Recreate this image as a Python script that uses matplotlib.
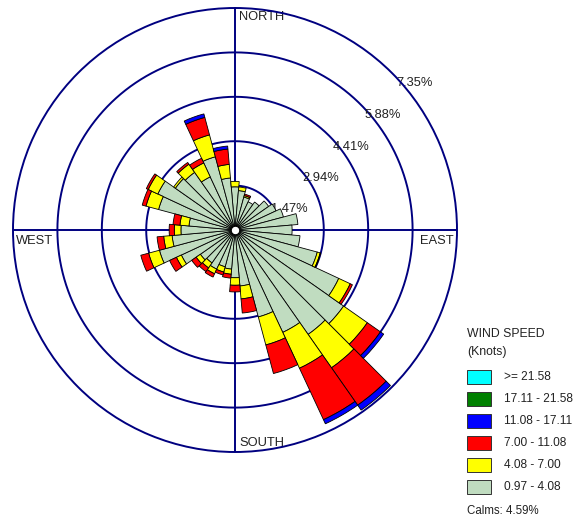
import numpy as np
import matplotlib
matplotlib.use("Agg")
import matplotlib.pyplot as plt
from matplotlib.patches import Rectangle

plt.rcParams['font.family'] = ['Liberation Sans', 'DejaVu Sans']

# ---------------- data ----------------
directions = [0, 10, 20, 30, 40, 50, 60, 70, 80, 90, 100, 110,
              120, 130, 140, 150, 160, 170, 180, 190, 200, 210, 220, 230,
              240, 250, 260, 270, 280, 290, 300, 310, 320, 330, 340, 350]

# frequency (%) per direction for each wind-speed class
freq_097_408 = [1.43, 1.31, 1.13, 1.03, 1.13, 1.36, 1.50, 1.66, 2.09, 1.89, 2.16, 2.82,
                3.79, 4.39, 4.22, 3.74, 2.98, 1.86, 1.58, 1.30, 1.26, 1.43, 1.33, 1.40,
                1.96, 2.59, 2.09, 1.79, 1.53, 2.62, 2.82, 2.41, 2.33, 1.94, 2.51, 1.73]
freq_408_700 = [0.18, 0.12, 0.05, 0.00, 0.00, 0.00, 0.00, 0.00, 0.00, 0.00, 0.00, 0.10,
                0.42, 0.96, 1.35, 1.31, 0.96, 0.43, 0.25, 0.17, 0.18, 0.17, 0.20, 0.17,
                0.18, 0.37, 0.28, 0.22, 0.30, 0.43, 0.35, 0.07, 0.33, 0.51, 0.75, 0.45]
freq_700_1108 = [0.00, 0.00, 0.05, 0.00, 0.00, 0.00, 0.00, 0.00, 0.00, 0.00, 0.00, 0.02,
                 0.08, 0.53, 1.51, 1.88, 0.98, 0.47, 0.22, 0.13, 0.10, 0.12, 0.15, 0.18,
                 0.25, 0.27, 0.22, 0.17, 0.23, 0.13, 0.07, 0.00, 0.07, 0.17, 0.60, 0.51]
freq_1108_1711 = [0.00, 0.00, 0.00, 0.00, 0.00, 0.00, 0.00, 0.00, 0.00, 0.00, 0.00, 0.00,
                  0.00, 0.13, 0.20, 0.15, 0.00, 0.00, 0.00, 0.00, 0.00, 0.00, 0.00, 0.00,
                  0.00, 0.00, 0.00, 0.00, 0.00, 0.00, 0.00, 0.00, 0.00, 0.00, 0.12, 0.10]
freq_1711_2158 = [0.0] * 36
freq_ge_2158 = [0.0] * 36

speed_labels = [">= 21.58", "17.11 - 21.58", "11.08 - 17.11",
                "7.00 - 11.08", "4.08 - 7.00", "0.97 - 4.08"]
speed_colors = ["#00FFFF", "#008000", "#0000FF", "#FF0000", "#FFFF00", "#C0DCC0"]
ring_values = [1.47, 2.94, 4.41, 5.88, 7.35]
ring_labels = ["1.47%", "2.94%", "4.41%", "5.88%", "7.35%"]
compass_labels = ["NORTH", "EAST", "SOUTH", "WEST"]
calms_text = "Calms: 4.59%"

# ---------------- figure ----------------
W, H = 575, 523
fig = plt.figure(figsize=(W / 100, H / 100), dpi=100)
fig.patch.set_facecolor("white")

cx, cy, R = 235, 230, 222  # pixel centre / outer radius
ax = fig.add_axes([(cx - R) / W, (H - cy - R) / H, 2 * R / W, 2 * R / H],
                  projection="polar")
ax.set_theta_zero_location("N")
ax.set_theta_direction(-1)
ax.set_ylim(0, ring_values[-1])
ax.grid(False)
ax.set_xticks([])
ax.set_yticks([])
ax.spines["polar"].set_color("#000080")
ax.spines["polar"].set_linewidth(1.4)
ax.set_facecolor("white")

navy = "#000080"
tt = np.linspace(0, 2 * np.pi, 721)
for rv in ring_values[:-1]:
    ax.plot(tt, np.full_like(tt, rv), color=navy, lw=1.4, zorder=1)
for a in [0, 90, 180, 270]:
    ax.plot([np.radians(a)] * 2, [0, ring_values[-1]], color=navy, lw=1.4, zorder=1)

theta = np.radians(directions)
width = np.radians(10)
classes = [freq_097_408, freq_408_700, freq_700_1108, freq_1108_1711,
           freq_1711_2158, freq_ge_2158]
class_colors = speed_colors[::-1]
bottom = np.zeros(len(directions))
for vals, col in zip(classes, class_colors):
    v = np.array(vals, dtype=float)
    m = v > 0
    if m.any():
        ax.bar(theta[m], v[m], width=width, bottom=bottom[m], color=col,
               edgecolor="black", linewidth=0.6, zorder=3, align="center")
    bottom += v

# calm circle
ax.scatter([0], [0], s=38, c="white", edgecolors="black", linewidths=0.8,
           zorder=6, clip_on=False)

txtc = "#222222"
fs = 9.3


def ftext(x, y, s, **kw):
    ax.text(x / W, 1 - y / H, s, transform=fig.transFigure, color=txtc,
            fontsize=kw.pop("fontsize", fs), va="center", ha="left", zorder=2, **kw)


ftext(239, 17, compass_labels[0])
ftext(420, 241, compass_labels[1])
ftext(239, 443, compass_labels[2])
ftext(16, 241, compass_labels[3])

ring_pos = [(271, 209), (302, 178), (333, 146.5), (365, 115), (396, 83)]
for (x, y), s in zip(ring_pos, ring_labels):
    ftext(x, y, s)

# ---------------- legend ----------------
def lt(x, y, s, size=8.6):
    fig.text(x / W, 1 - y / H, s, color=txtc, fontsize=size, va="center", ha="left")

lt(467, 334, "WIND SPEED", 8.8)
lt(467, 352, "(Knots)", 8.8)
box_tops = [370, 392, 414, 436, 458, 480]
for top, col, lab in zip(box_tops, speed_colors, speed_labels):
    fig.patches.append(Rectangle((467 / W, 1 - (top + 14) / H), 24 / W, 14 / H,
                                 facecolor=col, edgecolor="#333333", linewidth=0.7,
                                 transform=fig.transFigure, figure=fig))
    lt(504, top + 7, lab)
lt(467, 511, calms_text, 8.3)

fig.savefig("out.png", dpi=100)
